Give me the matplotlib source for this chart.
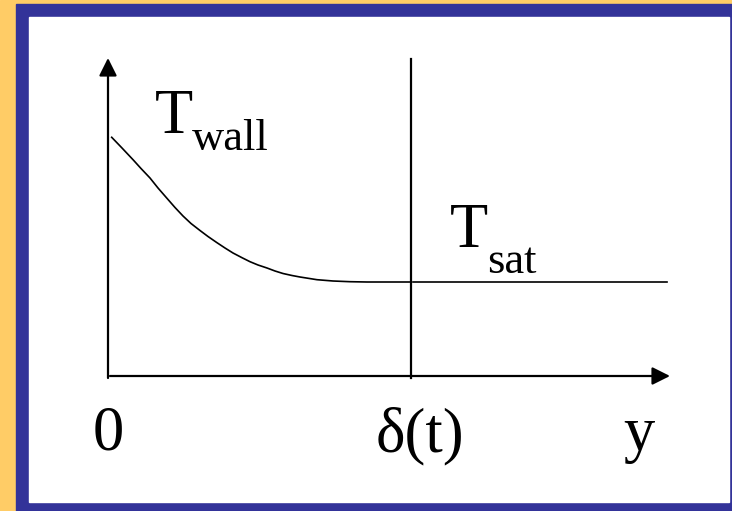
import matplotlib
matplotlib.use("Agg")
import matplotlib.pyplot as plt
from matplotlib.patches import Rectangle

plt.rcParams['font.family'] = ['Liberation Serif', 'DejaVu Serif']

# curve T(y), pixel coords (y grows downward)
curve_x = [111.7, 122, 133.3, 141, 150, 158, 166.7, 175, 183, 191, 200, 208,
           216.7, 225, 233, 242, 250, 258, 267, 275, 283, 292, 300, 317, 333,
           350, 367, 390, 411]
curve_y = [137.3, 148, 160, 168.5, 178, 188, 198, 207.5, 216, 223.5, 230.5, 236.5,
           242.5, 248, 253, 257.7, 261.7, 265, 268, 271, 273.5, 275.5, 277, 279.7, 281,
           281.7, 282, 282, 282]
# saturated region
sat_x = [413, 667]
sat_y = [282, 282]
# axes and film edge
y_axis = [(108, 378), (108, 58)]
x_axis = [(110, 376), (670, 376)]
delta_line = [(411, 59), (411, 378)]

W, H = 732, 511
fig = plt.figure(figsize=(W / 100, H / 100), dpi=100)
ax = fig.add_axes([0, 0, 1, 1])
ax.set_xlim(0, W)
ax.set_ylim(H, 0)
ax.axis('off')

# frame: orange strip, blue border, white panel
ax.add_patch(Rectangle((0, 0), W, H, color='#FFCC66', zorder=0))
ax.add_patch(Rectangle((16, 4), W - 16, H - 4, color='#333399', zorder=0))
ax.add_patch(Rectangle((29, 17), 729 - 29, 502 - 17, color='white', zorder=0))

arrow = dict(arrowstyle='-|>', mutation_scale=27, lw=1.6, color='black',
             shrinkA=0, shrinkB=0)
ax.annotate('', xy=y_axis[1], xytext=y_axis[0], arrowprops=arrow)
ax.annotate('', xy=x_axis[1], xytext=x_axis[0], arrowprops=arrow)
ax.plot([delta_line[0][0], delta_line[1][0]], [delta_line[0][1], delta_line[1][1]],
        color='black', lw=1.6)

ax.plot(curve_x, curve_y, color='black', lw=1.2, solid_joinstyle='round')
ax.plot(sat_x, sat_y, color='black', lw=1.2)

big = 45
small = 32
ax.text(155, 133, 'T', fontsize=big, va='baseline', ha='left')
ax.text(192, 150, 'wall', fontsize=small, va='baseline', ha='left')
ax.text(450, 247, 'T', fontsize=big, va='baseline', ha='left')
ax.text(487, 273, 'sat', fontsize=small, va='baseline', ha='left')
ax.text(108, 450, '0', fontsize=big, va='baseline', ha='center')
ax.text(420, 451, 'δ(t)', fontsize=big, va='baseline', ha='center')
ax.text(639, 450, 'y', fontsize=big, va='baseline', ha='center')

plt.savefig('out.png', dpi=100)
